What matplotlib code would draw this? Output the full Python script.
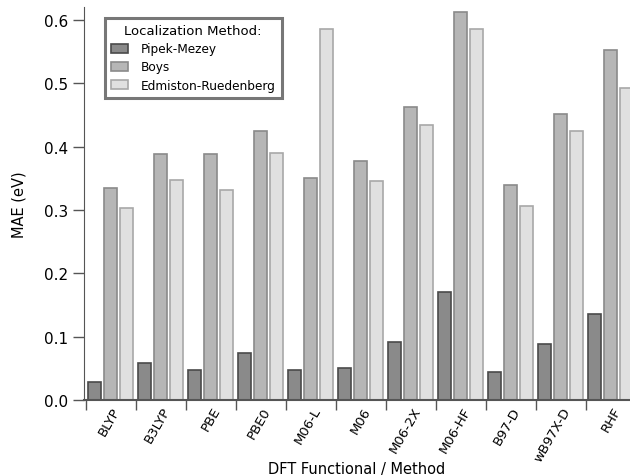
import matplotlib.pyplot as plt
import numpy as np

methods = ["BLYP", "B3LYP", "PBE", "PBE0", "M06-L", "M06", "M06-2X",
           "M06-HF", "B97-D", "wB97X-D", "RHF"]
pipek_mezey = [0.028, 0.058, 0.048, 0.074, 0.048, 0.050, 0.091, 0.171,
               0.044, 0.088, 0.136]
boys = [0.335, 0.388, 0.388, 0.424, 0.351, 0.377, 0.463, 0.612, 0.339,
        0.452, 0.552]
edmiston = [0.303, 0.347, 0.331, 0.390, 0.585, 0.345, 0.434, 0.585,
            0.306, 0.425, 0.492]

plt.rcParams['font.family'] = ['DejaVu Sans']

fig = plt.figure(figsize=(6.3, 4.77), dpi=100)
ax = fig.add_axes([0.133, 0.159, 0.867, 0.824])

x = np.arange(len(methods))
w = 0.26
series = [
    (pipek_mezey, "Pipek-Mezey", "#8a8a8a", "#4a4a4a", 0.17),
    (boys, "Boys", "#b6b6b6", "#8a8a8a", 0.49),
    (edmiston, "Edmiston-Ruedenberg", "#e0e0e0", "#a8a8a8", 0.81),
]
for vals, name, fc, ec, off in series:
    ax.bar(x + off, vals, width=w, color=fc, edgecolor=ec, linewidth=1.2,
           label=name)

ax.set_xlim(-0.04, 10.88)
ax.set_ylim(0, 0.62)
ax.set_yticks([0.0, 0.1, 0.2, 0.3, 0.4, 0.5, 0.6])
ax.set_yticklabels(["0.0", "0.1", "0.2", "0.3", "0.4", "0.5", "0.6"])

ax.set_xticks(x + 0.52)
ax.set_xticklabels(methods, rotation=60, ha='right', rotation_mode='anchor')
ax.set_xticks(x, minor=True)
ax.tick_params(axis='x', which='major', length=0, pad=3, labelsize=9.5)
ax.tick_params(axis='x', which='minor', length=7, width=1, color='#555555',
               direction='out')
ax.tick_params(axis='y', length=8, width=1, color='#555555', labelsize=11,
               direction='out')

for s in ['top', 'right']:
    ax.spines[s].set_visible(False)
ax.spines['left'].set_color('#555555')
ax.spines['bottom'].set_color('#555555')
ax.spines['bottom'].set_linewidth(1.5)

ax.set_ylabel("MAE (eV)", fontsize=10.5, labelpad=12)
ax.set_xlabel("DFT Functional / Method", fontsize=10.5)
ax.xaxis.set_label_coords(0.5, -0.156)

leg = ax.legend(title="Localization Method:", loc='upper left',
                bbox_to_anchor=(0.027, 0.987), fancybox=False, fontsize=8.7,
                title_fontsize=9.5, handlelength=1.4, handleheight=0.8,
                borderpad=0.5, labelspacing=0.42, handletextpad=1.1)
leg.get_frame().set_edgecolor('#555555')
leg.get_frame().set_linewidth(2.2)

fig.savefig("out.png", dpi=100)
